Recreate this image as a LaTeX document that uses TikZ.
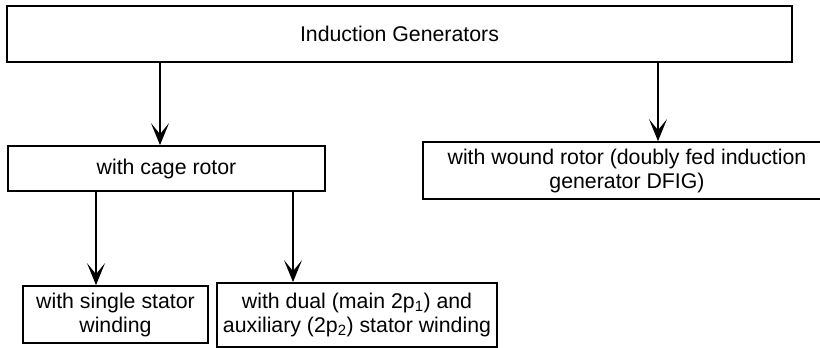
\documentclass[tikz,border=0pt]{standalone}
\usepackage{fontspec}
\setmainfont{Liberation Sans}
\usetikzlibrary{arrows.meta}

\begin{document}
\begin{tikzpicture}[x=1pt, y=-1pt, line cap=round,
  box/.style={draw, line width=1.8pt, rectangle, align=center, inner sep=0pt,
    font=\fontsize{21.3}{24}\selectfont},
  arr/.style={-{Stealth[length=22pt, width=18pt, inset=11pt]}, line width=1.3pt}]
\useasboundingbox (0,0) rectangle (820,348);
% top level
\node[box, minimum width=785pt, minimum height=56pt] (gen) at (399.5,34) {Induction Generators};
% rotor types
\node[box, minimum width=317pt, minimum height=45pt] (cage) at (166.5,168.5) {with cage rotor};
\node[box, minimum width=408pt, minimum height=57pt] (wound) at (627,170.5)
  {with wound rotor (doubly fed induction\\generator DFIG)};
% stator windings
\node[box, minimum width=185pt, minimum height=57pt] (single) at (115.5,314.5)
  {with single stator\\winding};
\node[box, minimum width=280pt, minimum height=64pt] (dual) at (357,315)
  {with dual (main 2p\textsubscript{1}) and\\auxiliary (2p\textsubscript{2}) stator winding};
% arrow positions
\coordinate (xcage) at (160,0);
\coordinate (xwound) at (658,0);
\coordinate (xsingle) at (96,0);
\coordinate (xdual) at (293,0);
% arrows
\draw[arr] (gen.south -| xcage) -- (cage.north -| xcage);
\draw[arr] (gen.south -| xwound) -- (wound.north -| xwound);
\draw[arr] (cage.south -| xsingle) -- (single.north -| xsingle);
\draw[arr] (cage.south -| xdual) -- (dual.north -| xdual);
\end{tikzpicture}
\end{document}
